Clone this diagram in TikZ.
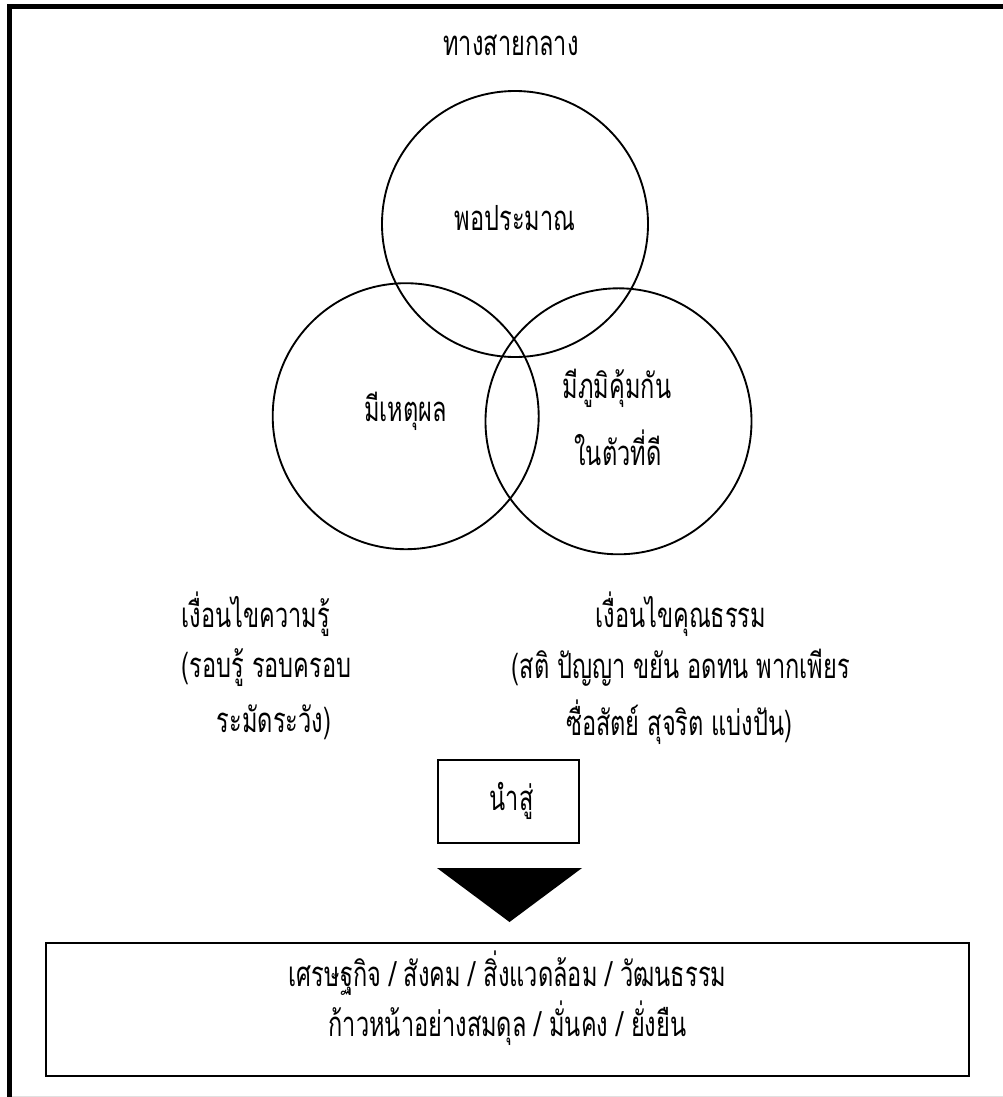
\documentclass[tikz,border=0pt]{standalone}
\usepackage{fontspec}
\newfontfamily\thaifont[Script=Thai,FakeStretch=0.68]{Loma}
\begin{document}
\begin{tikzpicture}[x=0.75pt,y=-0.75pt,
    txt/.style={anchor=base,inner sep=0pt,font=\thaifont\fontsize{26}{30}\selectfont},
    ring/.style={line width=1.4pt},
    box/.style={line width=1.6pt},
    frame/.style={line width=3.75pt}]

\useasboundingbox (0,0) rectangle (1003,1097);
\clip (0,0) rectangle (1003,1097);

\draw[frame] (1020,6.5) -- (9.5,6.5) -- (9.5,1120);
\draw[black!12] (12,1096) -- (1003,1096);

\node[txt] (middle) at (511,55) {ทางสายกลาง};

\begin{scope}
    \draw[ring] (515,224) circle (133);
    \draw[ring] (405.7,416.2) circle (133);
    \draw[ring] (618.5,421.3) circle (133);
\end{scope}

\node[txt] (moderate) at (515,230) {พอประมาณ};
\node[txt] (reason) at (405.5,421.7) {มีเหตุผล};
\node[txt] (immune) at (617,398.3) {มีภูมิคุ้มกัน};
\node[txt] (immunetwo) at (618,465) {ในตัวที่ดี};

\node[txt] (know) at (256,627.5) {เงื่อนไขความรู้};
\node[txt] (knowtwo) at (266.7,677) {(รอบรู้ รอบครอบ};
\node[txt] (knowthree) at (274,732) {ระมัดระวัง)};

\node[txt] (moral) at (680.8,627.5) {เงื่อนไขคุณธรรม};
\node[txt] (moraltwo) at (680.8,678) {(สติ ปัญญา ขยัน อดทน พากเพียร};
\node[txt] (moralthree) at (679.2,735) {ซื่อสัตย์ สุจริต แบ่งปัน)};

\draw[box] (438,760) rectangle (579,843);
\node[txt] (lead) at (511.7,810) {นำสู่};
\fill (437,868) -- (582,868) -- (509.5,922) -- cycle;

\draw[box] (46,943) rectangle (969,1076);
\node[txt] (result) at (507.5,986.7) {เศรษฐกิจ / สังคม / สิ่งแวดล้อม / วัฒนธรรม};
\node[txt] (resulttwo) at (507.5,1036.7) {ก้าวหน้าอย่างสมดุล / มั่นคง / ยั่งยืน};
\end{tikzpicture}
\end{document}
